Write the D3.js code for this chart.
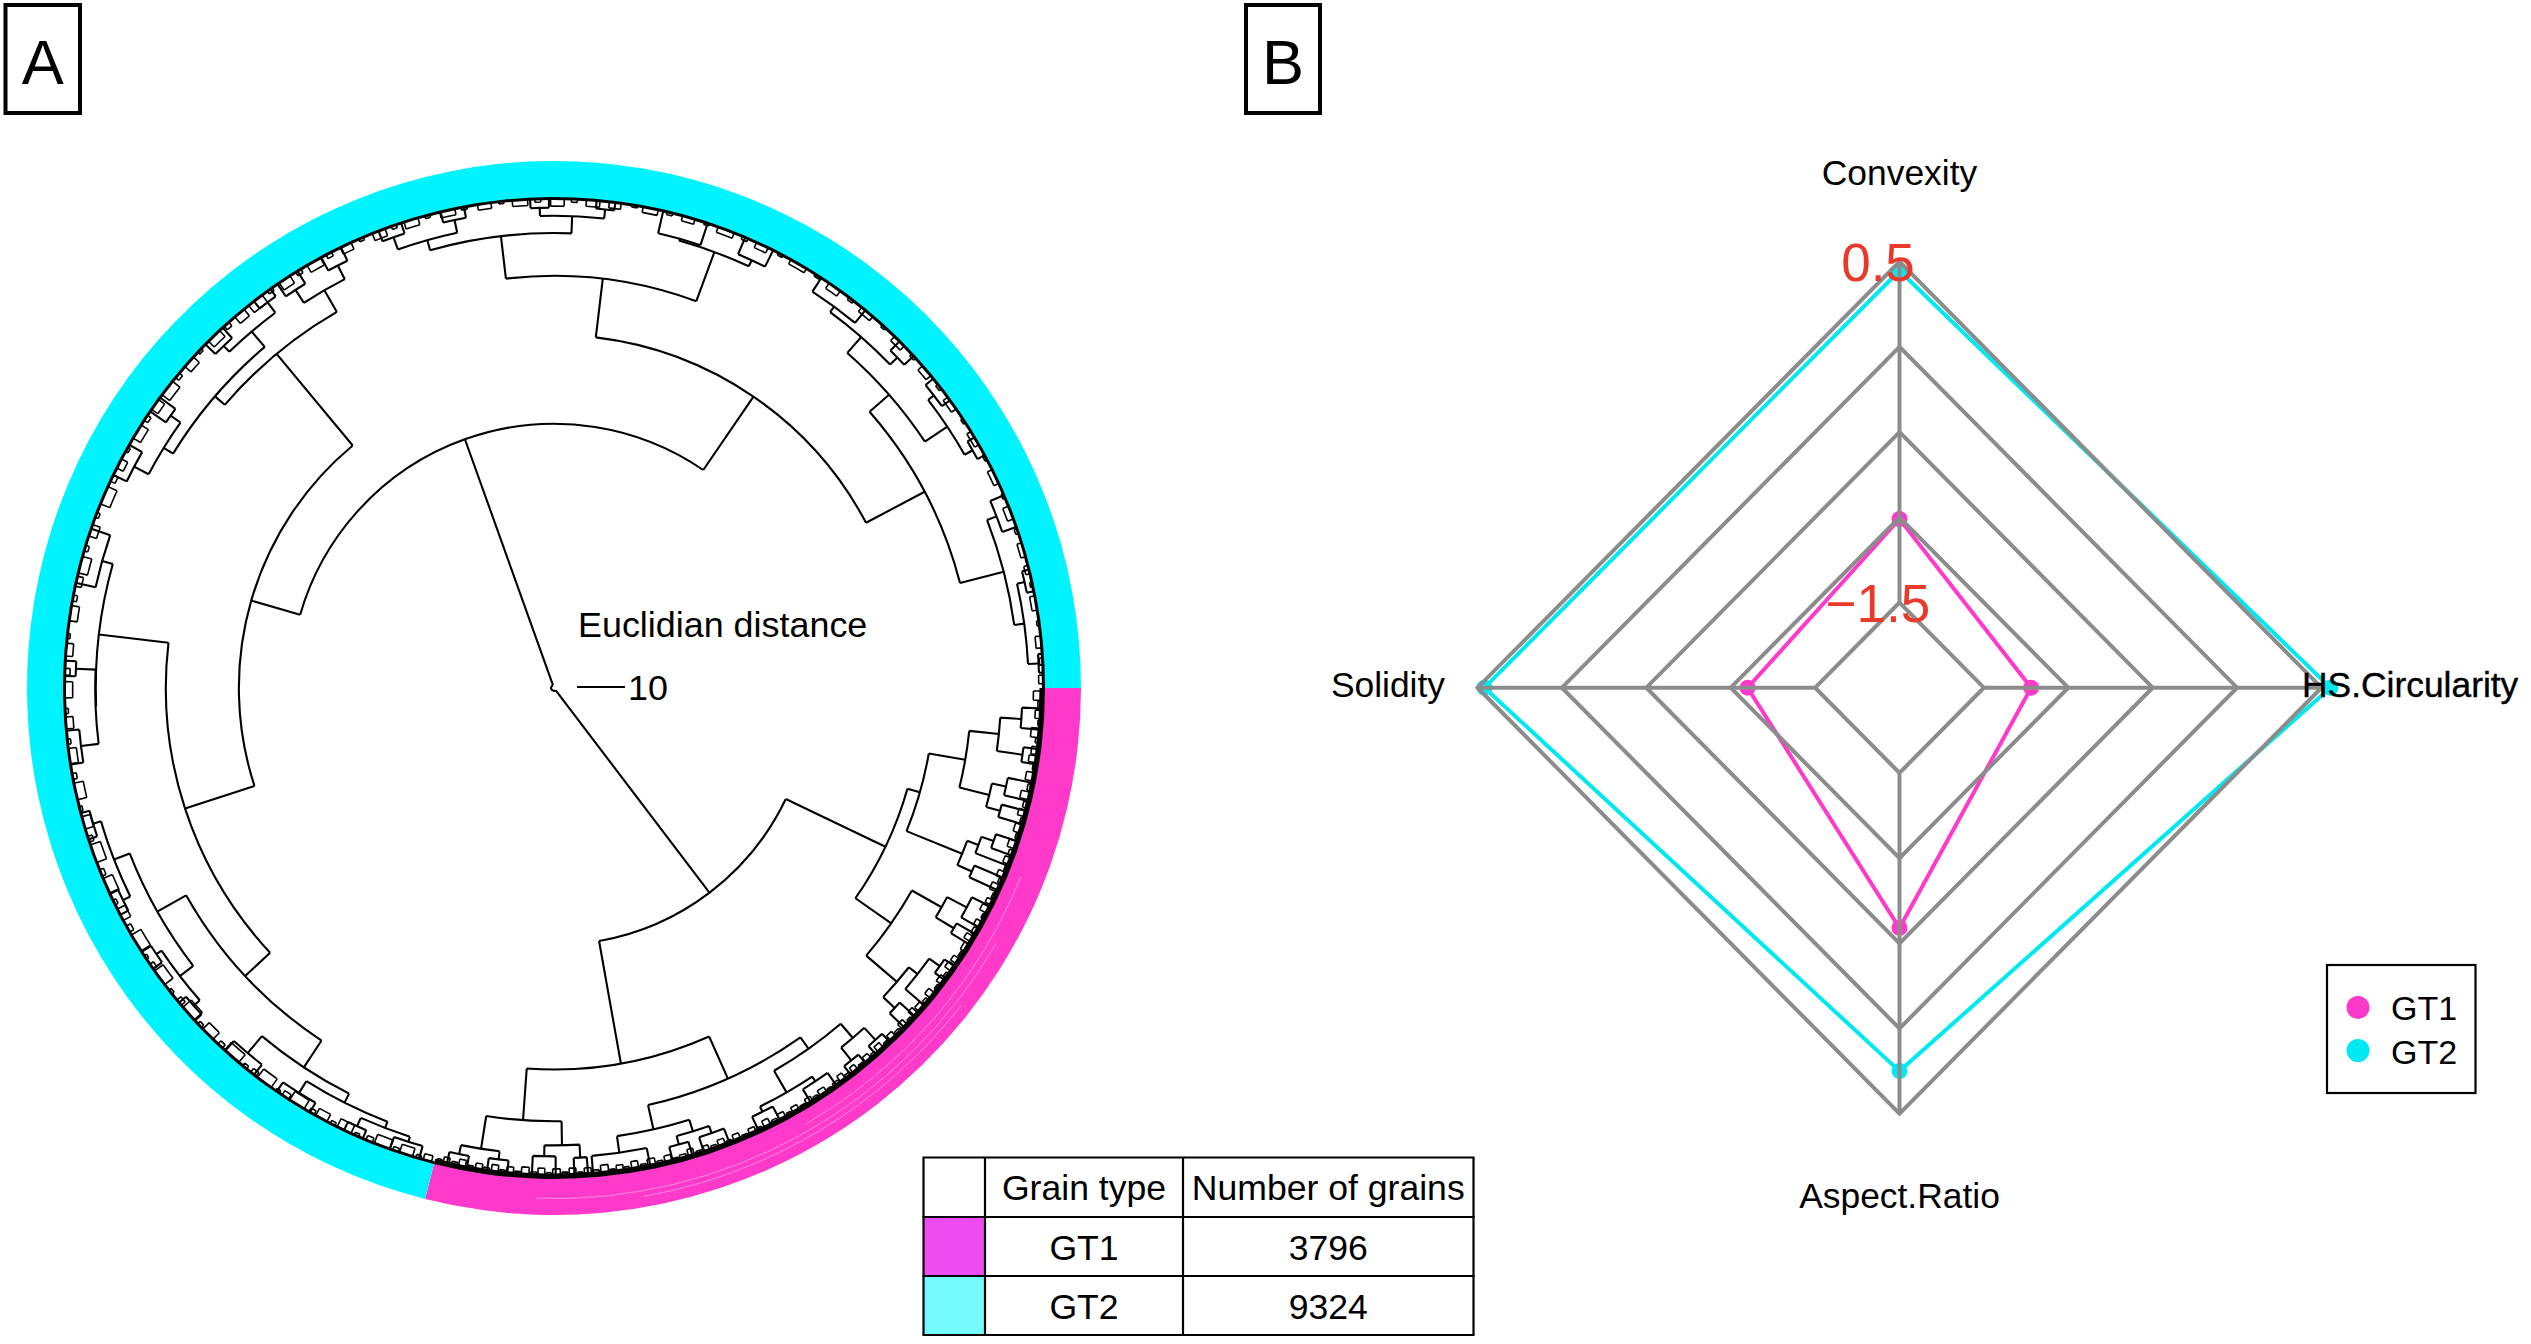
<!DOCTYPE html>
<html><head><meta charset="utf-8">
<style>html,body{margin:0;padding:0;background:#fff}svg{display:block}text{font-family:"Liberation Sans",Arial,sans-serif;fill:#000}</style>
<script src="https://cdn.jsdelivr.net/npm/d3@7"></script>
</head><body><svg id="c" width="2531" height="1344"></svg>
<script>
// ---------- table / legend ----------
const grainTypes = ["GT1", "GT2"];
const grainCounts = [3796, 9324];
const tableHeaders = ["", "Grain type", "Number of grains"];
// ---------- dendrogram: merges as [angle of child A, angle of child B, Euclidean distance from root]
const rootMerges = [[52.8,250.3,0.6],[25.6,79.9,53.5],[196.1,304.4,55]];
const cladeR1 = [[15.9,34.9,76.5],[9.9,22.1,79.2],[5.9,13.8,86.9],[3.8,8.1,93.1],[2.4,4.9,97.5],[7.2,9,98.5],
  [12.3,15.4,93.3],[11.2,13.4,96.3],[14.6,16.2,96.3],[20.3,23.7,91.7],[19.2,21.4,94.2],[18.3,20.1,96.9],[22.9,24.5,95],
  [29.5,40.6,85.6],[28,31,92.7],[26.6,29.4,97.3],[30.3,31.7,97.1],[38.2,43.2,94],[35.8,40.6,96.3],[34.8,36.8,99],[42.3,44.1,97.3]];
const cladeR2 = [[66,94.1,79.4],[54.8,77.3,89],[49.5,60.1,91.9],[47.6,51.4,95.8],[46.5,48.7,99.2],[50.3,52.5,99.2],
  [56.4,63.8,97.1],[54.6,58.2,98.3],[62.4,65.2,98.3],[72.6,82,94.2],[70.5,74.7,96.7],[68.9,72.1,98.3],[73.5,75.9,98.5],
  [78.6,85.4,97.7],[89,99,90.2],[86.8,91.2,95.2],[86,87.6,97.9],[89.8,92.6,97.5],[96.7,101.5,97.1],[95.5,97.9,98.8],[100.3,102.7,99]];
const cladeA1a = [[161.9,230.3,65.6],[220.7,240,90.4],[237,242.9,95.6],[241.6,244.2,98.8],[235.6,238.4,98.8],
  [211.6,229.7,93.1],[226,233.4,97.3],[224.6,227.4,99],[232.2,234.6,100],[207.8,215.4,95.4],[214.4,216.4,97.9],[205.8,209.8,98.8]];
const cladeA1b = [[137,186.7,80.8],[177.7,195.7,95.4],[173,182.3,95.5],[192.4,199,97.7],[181.4,183.2,99.6],[171,175,99.2],
  [123.4,150.6,87.9],[142.4,158.7,94.8],[153.8,163.6,98.3],[162,165.2,100],[152.4,155.2,100],[138.6,146.2,98.3],[145,147.4,99.6],[137.2,140,100],
  [116.8,130,94.6],[127.8,132.2,99.2],[111,122.2,96.7],[119.9,124.5,99.6],[107.8,114.2,98.1],[113,115.4,100],[106,109.6,99.2]];
const cladeA2a = [[276.8,332.1,73.5],[263.3,290.2,85.8],[285.6,294.8,96.7],[282.9,288.3,97.1],[293,296.6,98.1],
  [254.2,272.2,94.7],[268.3,276.1,98.3],[267.2,269.4,100],[275,277.2,100.2],[250.4,258,96.9],[256.6,259.4,99.6],[249,251.8,99.6]];
const cladeA2b = [[318.8,345.5,87.3],[311.2,326.4,92.7],[306.3,316.1,97.1],[303.1,309.5,98.5],[314.9,317.3,99.2],
  [322.4,330.4,98.3],[320.8,324,99.8],[329.2,331.6,100.2],[338.8,352.2,96.7],[336.8,340.8,98.8],[347.3,357.1,98.8],[346,348.6,100.4],[356,358.2,101]];
// small tufts read along the rim: [centre angle, angular width, distance]
const tuftsGT1 = [[0.9,1.1,99.8],[1.9,.7,100.8],[3.1,1,100.3],[4.1,.6,101],[5.3,1.1,99.7],[6.2,.6,100.8],[7.4,.9,100.2],[8.4,.8,99.9],[9.4,.6,101],[10.5,1,99.9],
 [11.8,.8,100.7],[12.8,.9,99.6],[13.9,.7,100.6],[14.9,.8,100],[15.8,.6,100.9],[16.8,1,100.1],[17.7,.7,100.9],[18.8,.9,99.9],[19.8,.7,100.6],[20.8,.8,100.2],
 [21.8,.6,101],[22.6,.8,100],[23.4,.6,100.8],[24.3,.9,99.8],[25.3,.7,100.9],[26.1,.6,100.2],[27.1,.8,99.9],[28,.6,100.9],[29,.7,100.2],[30,.8,100.6],
 [31,.7,99.9],[32.2,1,100.5],[33.2,.8,100.9],[34.1,.7,100.1],[35.1,.8,99.9],[36.2,.6,100.8],[37,.9,100.2],[38,.7,100.9],[39.1,.8,100],[40.1,.6,100.7],
 [41.1,.9,100.3],[42.1,.7,99.9],[43,.6,100.9],[44,.8,100.1],[45,.7,100.8],[45.9,.8,100.2],[46.9,.6,100.9],[47.9,.8,100.1],[48.9,.6,100.8],[49.8,.8,100.2],
 [50.8,.7,100.9],[51.8,.7,100.2],[52.8,.8,100.8],[53.6,.7,100],[54.5,.8,100.7],[55.5,.6,101],[56.4,.9,100.2],[57.4,.6,100.8],[58.3,.8,100.3],[59.2,.7,101],
 [60.2,.8,100.3],[61.1,.6,100.9],[62,.8,100.2],[63,.7,100.8],[64,.8,100],[65,.6,100.9],[65.9,.8,100.3],[66.9,.7,101],[67.9,.8,100.2],[68.9,.6,100.9],
 [69.8,.8,100.1],[70.8,.7,100.8],[71.7,.6,100.3],[72.6,.8,100.9],[73.6,.7,100],[74.6,.8,100.7],[75.5,.6,101],[76.4,.8,100.1],[77.4,.7,100.8],[78.4,.9,100],
 [79.4,.7,100.8],[80.4,.8,99.9],[81.4,.6,100.8],[82.2,.8,100.2],[83.1,.7,100.9],[84,.9,99.8],[85,.7,100.7],[86,.8,100.1],[86.9,.6,100.9],[87.8,.8,100],
 [88.7,.7,100.8],[89.7,.9,100.1],[90.6,.6,100.9],[91.5,.8,100],[92.4,.7,100.8],[93.4,.9,99.9],[94.3,.7,100.9],[95.2,.8,100.1],[96.1,.7,100.9],[97,.8,100],
 [98,.7,100.8],[98.9,.8,100.2],[99.9,.7,100.9],[100.9,.8,100],[101.8,.7,100.8],[102.8,.7,100.2],[103.6,.6,100.9]];
const tuftsGT2a = [[105,1,100.6],[106.1,.6,101.2],[107.6,1.6,100.1],[108.9,.7,101.1],[110.6,1.9,99.9],[112.2,.8,100.9],[113.8,.6,101.3],[115.4,1.8,100],[116.9,.6,101.2],[118.4,1.5,100.2],
 [119.7,.7,101],[121.7,2,99.8],[123.3,.9,100.8],[124.4,.5,101.3],[126.3,2,99.7],[127.9,.8,100.9],[129.2,.6,101.2],[131.2,2.2,99.8],[133,.7,101],[135,1.7,100],
 [136.4,.6,101.2],[138.3,2,99.6],[140,.8,100.8],[141.6,.6,101.3],[143.7,2,99.7],[145.3,.7,101],[146.6,.5,101.3],[148.6,2.2,99.6],[150.5,.8,100.9],[152.4,1.5,100.1],
 [154,.6,101.2],[156.1,2,99.8],[157.8,.8,101],[160.2,2.2,99.7],[162,.7,100.9],[164,1.5,100.1],[165.7,.6,101.3],[167.8,2,99.9],[169.6,.7,101],[172,1.8,100.2],
 [173.7,.6,101.2],[175.9,1.4,100.3],[177.3,.6,101.2],[179.8,1.9,100.2],[181.9,.8,100.8],[184.5,1.5,100.4],[186.1,.6,101.3]];
const tuftsGT2b = [[188.8,1.8,100.2],[190.6,.7,101],[192.6,1.2,100.6],[194.6,2,99.9],[196.6,.7,101.1],[198.8,1.4,100.2],[200.7,.6,101.2],[203.2,2.2,99.8],[205.4,.8,100.8],[207.3,1.2,100.4],
 [209.2,.6,101.3],[211.6,1.8,100.1],[213.5,.7,101],[215.4,1.4,100.3],[217.8,2,99.9],[219.7,.7,101],[221.8,1.5,100.2],[223.6,.6,101.3],[226,1.8,100.2],[228,.7,100.9],
 [230,1.4,100.1],[232.4,2,100],[234.5,.7,101.2],[236.6,1.5,100.1],[238.5,.7,101],[240.6,1.8,100.2],[242.6,.7,101],[244.8,1.4,100.4],[246.8,.6,101.3],[249,1.6,100.3],
 [250.9,.6,101.2],[253,1.7,100.4],[255,.6,101.3],[257.4,1.8,100.6],[259.4,.7,101.3],[261.8,1.6,100.7],[263.8,.6,101.4],[266,1.8,100.6],[268.1,.7,101.2],[270.4,1.6,100.3],
 [272.4,.7,101.2],[274.6,1.6,100.5]];
const tuftsGT2c = [[277.2,1.4,100.6],[279.5,.7,101.4],[281.4,1.8,100.7],[283.7,.7,101.3],[286,1.5,100.8],[288.2,.6,101.4],[290.6,2,100.7],[293,.7,101.2],[295.2,1.5,100.7],[297.6,.6,101.4],
 [300,2.1,100.9],[302.6,.7,101.4],[305,1.6,100.6],[307.4,.7,101.3],[309.8,1.7,100.8],[312.4,.6,101.4],[314.9,1.6,100.7],[317.3,.7,101.3],[319.6,1.5,100.6],[322,.7,101.3],
 [324.4,1.7,100.7],[326.9,.6,101.4],[329.3,1.8,100.9],[331.9,.7,101.4],[334.4,1.8,100.8],[336.9,.6,101.4],[339,1.6,100.6],[341.3,.6,101.3],[343.6,1.7,100.9],[346,1,101],
 [347.8,.6,101.4],[350,1.7,100.8],[352.4,.6,101.4],[354.6,1.4,100.7],[356.9,.8,101.2],[359,1,100.9]];
const ringStreaks = [[22,60,0.36],[30,92,0.56],[38,80,0.72]];
const scaleBarUnits = 10;
// ---------- radar ----------
const radarAxes = ["Convexity","Solidity","Aspect.Ratio","HS.Circularity"];
const valuesGT1 = [-1.01,-1.10,-0.59,-1.22];
const valuesGT2 = [0.447,0.459,0.25,0.553];
const radarLevels = [-1.5,-1,-0.5,0,0.5];
const radarTickLabels = [["0.5",0.5],["\u22121.5",-1.5]];

const svg = d3.select("#c");
const cx=554, cy=688;
const colors = d3.scaleOrdinal(grainTypes,["#ff3acb","#00f4ff"]);
const tableColors = d3.scaleOrdinal(grainTypes,["#ee4cf0","#73fbfc"]);
const rad = d3.scaleLinear().domain([0,102]).range([0,490]);
const ang = d3.scaleLinear().domain([0,360]).range([0,2*Math.PI]);
const rimD = 102;

// panel tags
[["A",5.5,74.5],["B",1246,74]].forEach(([t,x,w])=>{
  svg.append("rect").attr("x",x).attr("y",5).attr("width",w).attr("height",108).attr("fill","#fff").attr("stroke","#000").attr("stroke-width",4);
  svg.append("text").attr("x",x+w/2).attr("y",83.5).attr("text-anchor","middle").attr("font-size",63).text(t);
});

// ring
const pie = d3.pie().sort(null).startAngle(Math.PI/2).endAngle(Math.PI/2+2*Math.PI);
const slices = pie(grainCounts);
const ringG = svg.append("g").attr("transform",`translate(${cx},${cy})`);
const ringArc = d3.arc().innerRadius(490.5).outerRadius(527);
ringG.selectAll("path.ring").data(slices).join("path").attr("class","ring").attr("d",ringArc).attr("fill",(d,i)=>colors(grainTypes[i]));
const bandArc = (d,i)=>d3.arc().innerRadius(i?488:485.5).outerRadius(491)(d);
ringG.selectAll("path.band").data(slices).join("path").attr("class","band").attr("d",bandArc).attr("fill","#000");
ringG.selectAll("path.streak").data(ringStreaks).join("path").attr("fill","none").attr("stroke","#ff9fe6").attr("stroke-width",.8)
  .attr("d",d=>{const r=491+35*d[2],p=d3.path();p.arc(0,0,r,ang(d[0]),ang(d[1]));return p.toString();});

// dendrogram
const merges = [].concat(rootMerges,cladeR1,cladeR2,cladeA1a,cladeA1b,cladeA2a,cladeA2b);
const tufts = [].concat(tuftsGT1,tuftsGT2a,tuftsGT2b,tuftsGT2c).map(t=>[t[0]-t[1]/2,t[0]+t[1]/2,t[2],true]);
function outerDist(a,d){
  let best=rimD;
  merges.forEach(m=>{const mid=(m[0]+m[1])/2; if(Math.abs(mid-a)<0.6 && m[2]>d && m[2]<best) best=m[2];});
  return best;
}
function mergePath(m){
  const [a0,a1,d,isTuft]=m, p=d3.path(), r=rad(d);
  [a0,a1].forEach(a=>{
    const e=isTuft?rimD:outerDist(a,d), t=ang(a), R=rad(e);
    p.moveTo(cx+r*Math.cos(t),cy+r*Math.sin(t));
    p.lineTo(cx+R*Math.cos(t),cy+R*Math.sin(t));
  });
  p.moveTo(cx+r*Math.cos(ang(a0)),cy+r*Math.sin(ang(a0)));
  p.arc(cx,cy,r,ang(a0),ang(a1));
  return p.toString();
}
const dendro = svg.append("g").attr("fill","none").attr("stroke","#000").attr("stroke-linejoin","miter");
dendro.selectAll("path.m").data(merges).join("path").attr("class","m").attr("stroke-width",2.1).attr("d",mergePath);
dendro.selectAll("path.t").data(tufts).join("path").attr("class","t").attr("stroke-width",1.6).attr("d",mergePath);

// scale bar
svg.append("line").attr("x1",577).attr("x2",577+rad(scaleBarUnits)).attr("y1",687).attr("y2",687).attr("stroke","#000").attr("stroke-width",1.8);
svg.append("text").attr("x",578).attr("y",637).attr("font-size",35.9).text("Euclidian distance");
svg.append("text").attr("x",628).attr("y",700).attr("font-size",35.9).text(scaleBarUnits);

// table
const colX=[923.5,985,1183,1473.5], rowY=[1157.5,1217,1276,1335];
const cells=[tableHeaders].concat(grainTypes.map((g,i)=>["",g,String(grainCounts[i])]));
const tb=svg.append("g");
grainTypes.forEach((g,i)=>tb.append("rect").attr("x",colX[0]).attr("y",rowY[i+1]).attr("width",colX[1]-colX[0]).attr("height",rowY[i+2]-rowY[i+1]).attr("fill",tableColors(g)));
colX.forEach(x=>tb.append("line").attr("x1",x).attr("x2",x).attr("y1",rowY[0]).attr("y2",rowY[3]).attr("stroke","#000").attr("stroke-width",2.2));
rowY.forEach(y=>tb.append("line").attr("x1",colX[0]-1).attr("x2",colX[3]+1).attr("y1",y).attr("y2",y).attr("stroke","#000").attr("stroke-width",2.2));
cells.forEach((row,i)=>row.forEach((t,j)=>{ if(t) tb.append("text").attr("x",(colX[j]+colX[j+1])/2).attr("y",rowY[i]+42.5).attr("text-anchor","middle").attr("font-size",35.6).text(t);}));

// radar
const rx0=1899.5, ry0=687.7;
const radX=d3.scaleLinear().domain([-2,0.5]).range([0,422]);
const radY=d3.scaleLinear().domain([-2,0.5]).range([0,426]);
const axisAng=d3.scaleBand().domain(radarAxes).range([0,2*Math.PI]);
const px=(ax,v)=>rx0-radX(v)*Math.sin(axisAng(ax));
const py=(ax,v)=>ry0-radY(v)*Math.cos(axisAng(ax));
const closed=d3.line().x(d=>px(d.ax,d.v)).y(d=>py(d.ax,d.v)).curve(d3.curveLinearClosed);
const seriesG=svg.append("g");
[["GT1",valuesGT1],["GT2",valuesGT2]].forEach(([g,vals])=>{
  const pts=radarAxes.map((ax,i)=>({ax,v:vals[i]}));
  seriesG.append("path").attr("d",closed(pts)).attr("fill","none").attr("stroke",g==="GT1"?"#ff3acb":"#00e9f0").attr("stroke-width",4).attr("stroke-linejoin","miter");
  seriesG.selectAll("circle."+g).data(pts).join("circle").attr("class",g).attr("cx",d=>px(d.ax,d.v)).attr("cy",d=>py(d.ax,d.v)).attr("r",8).attr("fill",g==="GT1"?"#ff3acb":"#00e9f0");
});
const gridG=svg.append("g").attr("fill","none").attr("stroke","#8c8c8c").attr("stroke-width",4);
radarLevels.forEach(l=>gridG.append("path").attr("stroke-linejoin","miter").attr("d",closed(radarAxes.map(ax=>({ax,v:l})))));
radarAxes.forEach(ax=>gridG.append("line").attr("x1",px(ax,radarLevels[0])).attr("y1",py(ax,radarLevels[0])).attr("x2",px(ax,radarLevels[4])).attr("y2",py(ax,radarLevels[4])));
radarTickLabels.forEach(([t,v])=>svg.append("text").attr("x",1878).attr("y",py("Convexity",v)+19).attr("text-anchor","middle").attr("font-size",53).style("fill","#e8392a").text(t));
const fs=35.4;
svg.append("text").attr("x",rx0).attr("y",185).attr("text-anchor","middle").attr("font-size",fs).text(radarAxes[0]);
svg.append("text").attr("x",1445).attr("y",697).attr("text-anchor","end").attr("font-size",fs).text(radarAxes[1]);
svg.append("text").attr("x",rx0).attr("y",1208).attr("text-anchor","middle").attr("font-size",fs).text(radarAxes[2]);
svg.append("text").attr("x",2302).attr("y",697).attr("font-size",fs).attr("stroke","#000").attr("stroke-width",.4).text(radarAxes[3]);

// radar legend
svg.append("rect").attr("x",2327).attr("y",965).attr("width",148.5).attr("height",128).attr("fill","#fff").attr("stroke","#000").attr("stroke-width",2.2);
grainTypes.forEach((g,i)=>{
  svg.append("circle").attr("cx",2358).attr("cy",1007.5+43*i).attr("r",11.5).attr("fill",i?"#00e9f0":"#ff3acb");
  svg.append("text").attr("x",2391).attr("y",1020+43.5*i).attr("font-size",34).text(g);
});
</script></body></html>
